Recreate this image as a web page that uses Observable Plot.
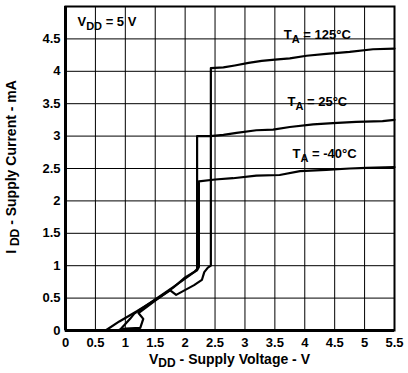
<!DOCTYPE html>
<html><head><meta charset="utf-8">
<script src="https://cdn.jsdelivr.net/npm/d3@7"></script>
<script src="https://cdn.jsdelivr.net/npm/@observablehq/plot@0.6"></script>
<style>body{margin:0;background:#fff} svg{display:block}</style>
</head><body><div id="chart"></div>
<script>
const xTicks = [0, 0.5, 1, 1.5, 2, 2.5, 3, 3.5, 4, 4.5, 5, 5.5];
const yTicks = [0, 0.5, 1, 1.5, 2, 2.5, 3, 3.5, 4, 4.5, 5];

// T_A = 125°C
const v125 = [0.67, 0.9, 1.2, 1.5, 1.75, 1.85, 1.95, 2.15, 2.28, 2.32, 2.38, 2.43, 2.43, 2.64, 2.83, 3.06, 3.28, 3.5, 3.75, 4.03, 4.36, 4.75, 5.14, 5.5];
const i125 = [0, 0.14, 0.3, 0.47, 0.62, 0.55, 0.6, 0.7, 0.78, 0.9, 0.97, 1.0, 4.05, 4.06, 4.09, 4.13, 4.16, 4.18, 4.2, 4.24, 4.27, 4.3, 4.34, 4.35];
// T_A = 25°C
const v25 = [0.9, 1.0, 1.08, 1.15, 1.5, 1.8, 2.0, 2.15, 2.2, 2.2, 2.42, 2.64, 2.86, 3.19, 3.47, 3.75, 4.14, 4.47, 4.86, 5.3, 5.5];
const i25 = [0, 0.1, 0.18, 0.26, 0.48, 0.67, 0.8, 0.9, 0.95, 3.0, 3.0, 3.02, 3.05, 3.09, 3.1, 3.14, 3.18, 3.2, 3.22, 3.23, 3.25];
// T_A = -40°C
const vm40 = [0.85, 1.0, 1.25, 1.3, 1.22, 1.5, 1.8, 2.0, 2.2, 2.23, 2.23, 2.5, 2.8, 3.19, 3.58, 3.92, 4.36, 4.75, 5.03, 5.5];
const im40 = [0, 0.03, 0.04, 0.18, 0.27, 0.46, 0.66, 0.82, 0.93, 0.98, 2.3, 2.33, 2.35, 2.39, 2.4, 2.46, 2.48, 2.5, 2.51, 2.52];

const seriesNames = ["125°C", "25°C", "-40°C"];
const seriesV = [v125, v25, vm40];
const seriesI = [i125, i25, im40];

const tempLabels = [
  {text: "T|A| = 125°C", x: 4.21, y: 4.57},
  {text: "T|A| = 25°C", x: 4.21, y: 3.53},
  {text: "T|A| = -40°C", x: 4.33, y: 2.73}
];
const condLabel = [{text: "V|DD| = 5 V", x: 0.2, y: 4.77}];

const data = [];
seriesNames.forEach((s, k) => seriesV[k].forEach((v, j) => data.push({series: s, v, i: seriesI[k][j]})));

const font = "'Liberation Sans', Arial, Helvetica, sans-serif";
const fs = 13;

const plot = Plot.plot({
  width: 408, height: 373,
  marginLeft: 65, marginRight: 14, marginTop: 6, marginBottom: 43,
  style: {fontFamily: font, fontSize: fs + "px", fontWeight: "bold", color: "black", background: "white", overflow: "visible"},
  x: {domain: [0, 5.5], ticks: xTicks, tickSize: 0, tickPadding: 7, tickFormat: d => String(d), label: null},
  y: {domain: [0, 5], ticks: yTicks, tickSize: 0, tickPadding: 5, tickFormat: d => String(d), label: null},
  marks: [
    Plot.gridX(xTicks, {stroke: "black", strokeOpacity: 1, strokeWidth: 1}),
    Plot.gridY(yTicks, {stroke: "black", strokeOpacity: 1, strokeWidth: 1}),
    Plot.line(data, {x: "v", y: "i", z: "series", stroke: "black", strokeWidth: 2.2, strokeLinejoin: "round"}),
    Plot.text(tempLabels, {x: "x", y: "y", text: "text", textAnchor: "middle", fontSize: fs, fontWeight: "bold", fill: "black"}),
    Plot.text(condLabel, {x: "x", y: "y", text: "text", textAnchor: "start", fontSize: fs, fontWeight: "bold", fill: "black"}),
    Plot.frame({stroke: "black", strokeWidth: 2}),
    Plot.ruleX([0], {stroke: "black", strokeWidth: 3}),
    Plot.ruleY([0], {stroke: "black", strokeWidth: 3})
  ]
});

document.getElementById("chart").append(plot);
const svg = d3.select(plot);

function subscriptify(sel, size, shift) {
  sel.each(function () {
    const t = d3.select(this);
    const s = t.text();
    if (!s.includes("|")) return;
    const parts = s.split("|");
    t.text(null);
    parts.forEach((p, k) => {
      const ts = t.append("tspan").text(p);
      if (k % 2 === 1) ts.attr("font-size", size - 2).attr("dy", shift);
      else if (k > 0) ts.attr("dy", -shift);
    });
  });
}

// annotation texts: subscripts + white boxes
const annoTexts = svg.selectAll('g[aria-label="text"] text');
subscriptify(annoTexts, fs, 4);
annoTexts.each(function () {
  const b = this.getBBox();
  const node = this;
  d3.select(node.parentNode).insert("rect", () => node)
    .attr("x", b.x - 6).attr("y", b.y - 3)
    .attr("width", b.width + 26).attr("height", b.height + 6)
    .attr("fill", "white");
});

// axis titles
const ts = 14;
const xt = svg.append("text")
  .attr("x", (65 + 394) / 2).attr("y", 364)
  .attr("text-anchor", "middle").attr("font-size", ts).attr("font-weight", "bold")
  .attr("font-family", font).attr("fill", "black")
  .text("V|DD| - Supply Voltage - V");
const yt = svg.append("text")
  .attr("transform", "translate(16,167) rotate(-90)")
  .attr("text-anchor", "middle").attr("font-size", ts).attr("font-weight", "bold")
  .attr("font-family", font).attr("fill", "black")
  .text("I |DD| - Supply Current - mA");
subscriptify(xt, ts, 3);
subscriptify(yt, ts, 3);
</script>
</body></html>
